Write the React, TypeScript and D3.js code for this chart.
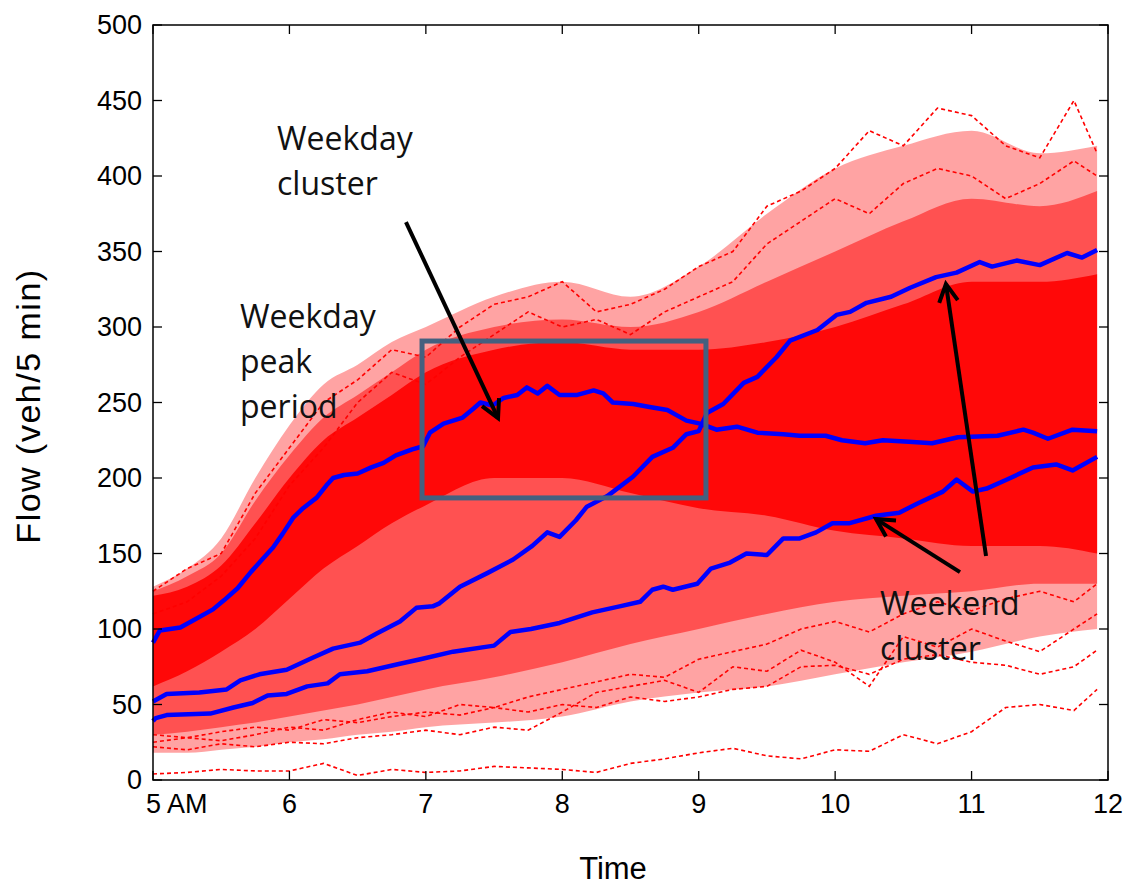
import React from 'react';
import * as d3 from 'd3';

// ---------- axes ----------
const yTicks = [0, 50, 100, 150, 200, 250, 300, 350, 400, 450, 500];
const xTicks = [5, 6, 7, 8, 9, 10, 11, 12];
const xTickLabels = ['5 AM', '6', '7', '8', '9', '10', '11', '12'];

// ---------- red individual days (15-min grid) ----------
const times15 = [5, 5.25, 5.5, 5.75, 6, 6.25, 6.5, 6.75, 7, 7.25, 7.5, 7.75, 8, 8.25, 8.5, 8.75, 9, 9.25, 9.5, 9.75, 10, 10.25, 10.5, 10.75, 11, 11.25, 11.5, 11.75, 11.92];
const redLow1 = [4, 5, 7, 6, 6, 11, 3, 7, 5, 6, 9, 8, 7, 5, 11, 14, 18, 21, 16, 14, 20, 19, 30, 24, 32, 48, 50, 46, 60];
const redLow2 = [22, 20, 24, 22, 25, 24, 28, 30, 33, 30, 35, 33, 45, 58, 62, 66, 58, 75, 72, 86, 78, 62, 95, 88, 100, 92, 85, 100, 110];
const redLow3 = [30, 28, 32, 35, 33, 40, 38, 42, 45, 43, 48, 45, 50, 48, 55, 52, 55, 60, 62, 75, 76, 70, 80, 83, 78, 76, 70, 75, 86];
const redLow4 = [25, 28, 26, 30, 35, 33, 40, 45, 42, 50, 48, 55, 60, 65, 70, 68, 80, 85, 90, 100, 105, 98, 110, 118, 112, 120, 125, 118, 130];
const redHigh1 = [125, 140, 150, 190, 220, 250, 265, 285, 280, 300, 315, 320, 330, 310, 315, 325, 340, 350, 380, 390, 405, 430, 420, 445, 440, 420, 412, 450, 415];
const redHigh2 = [110, 118, 135, 160, 195, 220, 250, 270, 262, 280, 295, 310, 300, 305, 295, 310, 320, 330, 355, 370, 385, 375, 395, 405, 400, 385, 395, 410, 400];
const redDays = [redLow1, redLow2, redLow3, redLow4, redHigh1, redHigh2];

// ---------- density envelopes of the red cloud ----------
const bandTimes = [5, 5.25, 5.5, 5.75, 6, 6.25, 6.5, 6.75, 7, 7.5, 8, 8.5, 9, 9.5, 10, 10.5, 11, 11.5, 11.92];
const sparseLow = [18, 18, 20, 22, 25, 27, 30, 32, 35, 38, 42, 52, 58, 62, 70, 78, 85, 95, 100];
const sparseHigh = [128, 140, 160, 200, 235, 262, 275, 290, 300, 320, 330, 320, 340, 375, 405, 420, 430, 415, 420];
const midLow = [30, 32, 35, 38, 42, 46, 50, 55, 60, 68, 78, 90, 100, 110, 118, 122, 125, 130, 130];
const midHigh = [125, 135, 150, 185, 215, 240, 255, 270, 285, 300, 305, 300, 310, 330, 350, 370, 385, 380, 390];
const coreLow = [62, 72, 85, 100, 120, 140, 155, 170, 182, 200, 200, 190, 180, 175, 165, 160, 155, 155, 150];
const coreHigh = [122, 128, 142, 170, 200, 225, 240, 255, 270, 285, 290, 285, 285, 290, 300, 315, 330, 330, 335];

// ---------- blue cluster centroids [hour, flow] ----------
const blueWeekday: [number, number][] = [
  [5.0, 91], [5.05, 99], [5.2, 101], [5.3, 106], [5.44, 113], [5.52, 119], [5.62, 127], [5.72, 138], [5.8, 146], [5.88, 154],
  [5.95, 163], [6.03, 174], [6.1, 180], [6.2, 187], [6.27, 195], [6.32, 200], [6.4, 202], [6.5, 203], [6.6, 207], [6.69, 210],
  [6.78, 215], [6.9, 219], [6.98, 221], [7.03, 230], [7.13, 236], [7.27, 240], [7.35, 246], [7.4, 250], [7.49, 248], [7.57, 253],
  [7.67, 255], [7.74, 260], [7.82, 256], [7.89, 261], [7.98, 255], [8.11, 255], [8.23, 258], [8.3, 256], [8.37, 250], [8.52, 249],
  [8.64, 247], [8.77, 245], [8.91, 238], [9.01, 236], [9.13, 232], [9.28, 234], [9.43, 230], [9.62, 229], [9.74, 228], [9.93, 228],
  [10.05, 225], [10.22, 223], [10.35, 225], [10.54, 224], [10.71, 223], [10.9, 227], [11.19, 228], [11.38, 232], [11.45, 230],
  [11.56, 226], [11.74, 232], [11.92, 231],
];
const blueWeekendHigh: [number, number][] = [
  [5.0, 52], [5.1, 57], [5.34, 58], [5.54, 60], [5.64, 66], [5.78, 70], [5.98, 73], [6.17, 81], [6.32, 87], [6.52, 91],
  [6.64, 97], [6.81, 105], [6.93, 114], [7.05, 115], [7.1, 117], [7.25, 128], [7.45, 137], [7.64, 146], [7.78, 155], [7.89, 164],
  [7.98, 161], [8.1, 172], [8.18, 181], [8.33, 188], [8.52, 201], [8.66, 214], [8.81, 220], [8.91, 229], [9.0, 231], [9.06, 243],
  [9.18, 249], [9.33, 263], [9.43, 267], [9.57, 280], [9.67, 291], [9.87, 298], [10.01, 308], [10.11, 310], [10.23, 316],
  [10.41, 320], [10.55, 326], [10.74, 333], [10.89, 336], [11.06, 343], [11.15, 340], [11.33, 344], [11.5, 341], [11.7, 349],
  [11.81, 346], [11.92, 351],
];
const blueWeekendLow: [number, number][] = [
  [5.0, 39], [5.02, 41], [5.1, 43], [5.42, 44], [5.59, 48], [5.73, 51], [5.84, 56], [5.98, 57], [6.13, 62], [6.28, 64],
  [6.37, 70], [6.57, 72], [6.81, 77], [6.96, 80], [7.2, 85], [7.5, 89], [7.62, 98], [7.77, 100], [7.98, 104], [8.22, 111],
  [8.42, 115], [8.57, 118], [8.66, 126], [8.74, 128], [8.81, 126], [8.99, 130], [9.09, 140], [9.23, 144], [9.35, 150], [9.5, 149],
  [9.62, 160], [9.74, 160], [9.86, 164], [9.98, 170], [10.1, 170], [10.3, 175], [10.47, 177], [10.6, 183], [10.79, 191],
  [10.89, 199], [11.01, 191], [11.11, 193], [11.26, 199], [11.45, 207], [11.62, 209], [11.74, 205], [11.92, 214],
];
const blueLines = [blueWeekday, blueWeekendHigh, blueWeekendLow];

// ---------- annotations (data coordinates) ----------
const peakBox = { t0: 6.972, t1: 9.053, v0: 186.8, v1: 290.7 };
const arrows = [
  { from: [6.854, 369.5], to: [7.529, 239.7] },
  { from: [11.106, 148.3], to: [10.812, 328.5] },
  { from: [10.915, 137.7], to: [10.3, 172.8] },
];
const labels = [
  { t: 5.909, v: 417.2, lines: ['Weekday', 'cluster'] },
  { t: 5.638, v: 299.3, lines: ['Weekday', 'peak', 'period'] },
  { t: 10.329, v: 109.3, lines: ['Weekend', 'cluster'] },
];

export default function App() {
  const x = d3.scaleLinear().domain([5, 12]).range([153, 1108]);
  const y = d3.scaleLinear().domain([0, 500]).range([780, 25]);
  const [x0, x1] = x.range();
  const [yb, yt] = y.range();

  const band = (lo: number[], hi: number[]) =>
    d3.area<number>()
      .x((t) => x(t))
      .y0((_, i) => y(lo[i]))
      .y1((_, i) => y(hi[i]))
      .curve(d3.curveMonotoneX)(bandTimes) || '';
  const redPath = (vals: number[]) =>
    d3.line<number>().x((_, i) => x(times15[i])).y((v) => y(v))(vals) || '';
  const bluePath = (pts: [number, number][]) =>
    d3.line<[number, number]>().x((d) => x(d[0])).y((d) => y(d[1]))(pts) || '';

  const annFont = "'Open Sans', 'Noto Sans', sans-serif";
  const axFont = "'Liberation Sans', Arial, sans-serif";
  const tickLen = 9;

  return (
    <svg width={1125} height={886} style={{ position: 'absolute', left: 0, top: 0, background: '#fff' }}>
      <rect x={0} y={0} width={1125} height={886} fill="#fff" />
      {/* red cloud */}
      <path d={band(sparseLow, sparseHigh)} fill="#ff0000" fillOpacity={0.36} />
      <path d={band(midLow, midHigh)} fill="#ff0000" fillOpacity={0.5} />
      <path d={band(coreLow, coreHigh)} fill="#ff0000" fillOpacity={0.9} />
      {redDays.map((vals, i) => (
        <path key={i} d={redPath(vals)} fill="none" stroke="#ff0000" strokeWidth={1.6} strokeDasharray="4,3" />
      ))}
      {/* blue centroids */}
      {blueLines.map((pts, i) => (
        <path key={i} d={bluePath(pts)} fill="none" stroke="#0000ff" strokeWidth={4.5} strokeLinejoin="round" />
      ))}
      {/* axes box */}
      <rect x={x0} y={yt} width={x1 - x0} height={yb - yt} fill="none" stroke="#000" strokeWidth={1.5} />
      {yTicks.map((v) => (
        <g key={v}>
          <line x1={x0} x2={x0 + tickLen} y1={y(v)} y2={y(v)} stroke="#000" strokeWidth={1.3} />
          <line x1={x1} x2={x1 - tickLen} y1={y(v)} y2={y(v)} stroke="#000" strokeWidth={1.3} />
          <text x={x0 - 11} y={y(v)} dy="0.35em" textAnchor="end" fontFamily={axFont} fontSize={27} fill="#000">{v}</text>
        </g>
      ))}
      {xTicks.map((t, i) => (
        <g key={t}>
          <line x1={x(t)} x2={x(t)} y1={yb} y2={yb - tickLen} stroke="#000" strokeWidth={1.3} />
          <line x1={x(t)} x2={x(t)} y1={yt} y2={yt + tickLen} stroke="#000" strokeWidth={1.3} />
          <text x={i === 0 ? x(t) - 7 : x(t)} y={813} textAnchor={i === 0 ? 'start' : 'middle'} fontFamily={axFont} fontSize={27} fill="#000">
            {xTickLabels[i]}
          </text>
        </g>
      ))}
      <text x={613} y={879} textAnchor="middle" fontFamily={axFont} fontSize={31} fill="#000">Time</text>
      <text transform={`translate(40, ${406}) rotate(-90)`} textAnchor="middle" fontFamily={axFont} fontSize={34} letterSpacing={1.5} fill="#000">
        Flow (veh/5 min)
      </text>
      {/* peak period box */}
      <rect x={x(peakBox.t0)} y={y(peakBox.v1)} width={x(peakBox.t1) - x(peakBox.t0)} height={y(peakBox.v0) - y(peakBox.v1)}
        fill="none" stroke="#44607f" strokeWidth={5} />
      {/* arrows */}
      {arrows.map((a, i) => {
        const ax = x(a.from[0]), ay = y(a.from[1]);
        const bx = x(a.to[0]), by = y(a.to[1]);
        const ang = Math.atan2(by - ay, bx - ax);
        const L = 20, th = (28 * Math.PI) / 180;
        const p1 = [bx - L * Math.cos(ang - th), by - L * Math.sin(ang - th)];
        const p2 = [bx - L * Math.cos(ang + th), by - L * Math.sin(ang + th)];
        return (
          <g key={i} stroke="#000" strokeWidth={4} fill="none">
            <line x1={ax} y1={ay} x2={bx} y2={by} />
            <path d={`M${p1[0]},${p1[1]}L${bx},${by}L${p2[0]},${p2[1]}`} strokeLinejoin="miter" />
          </g>
        );
      })}
      {/* labels */}
      {labels.map((lb, i) => (
        <text key={i} x={x(lb.t)} y={y(lb.v)} fontFamily={annFont} fontSize={32} fill="#111">
          {lb.lines.map((s, j) => (
            <tspan key={j} x={x(lb.t)} dy={j === 0 ? 0 : 45}>{s}</tspan>
          ))}
        </text>
      ))}
    </svg>
  );
}
